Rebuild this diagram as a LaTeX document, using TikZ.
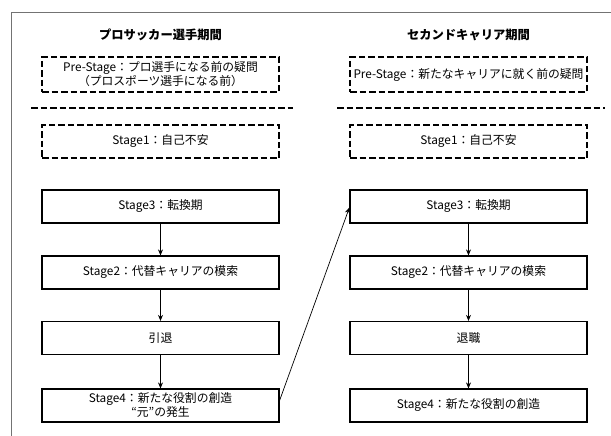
\documentclass[tikz,border=0pt]{standalone}
\usepackage{fontspec}
\setmainfont{Noto Sans CJK JP}
\usetikzlibrary{arrows.meta}
\begin{document}
\begin{tikzpicture}[x=1pt,y=-1pt,
  box/.style={draw,line width=1.2pt,minimum width=237pt,minimum height=33pt,inner sep=1pt,align=center,font=\fontsize{11.8}{14}\selectfont},
  dbox/.style={box,dash pattern=on 6.5pt off 3pt},
  title/.style={font=\fontsize{12.3}{14}\selectfont\bfseries},
  sep/.style={line width=1.2pt,dash pattern=on 6.5pt off 3pt},
  arr/.style={-{Stealth[length=6pt,width=5pt]},line width=0.7pt},
  frame/.style={draw=black!55,line width=0.9pt}]
\useasboundingbox (0,0) rectangle (611,436);
% outer frame
\coordinate (fr1) at (611,12);
\coordinate (fr2) at (11,12);
\coordinate (fr3) at (11,436);
\draw[frame] (fr1) -- (fr2) -- (fr3);
% titles
\node[title] (tl) at (160.5,35) {プロサッカー選手期間};
\node[title] (tr) at (468.5,35) {セカンドキャリア期間};
% left column
\node[dbox,minimum height=35pt] (pl) at (160.5,74.5) {Pre-Stage：プロ選手になる前の疑問\\（プロスポーツ選手になる前）};
\node[dbox] (s1l) at (160.5,141.5) {Stage1：自己不安};
\node[box] (s3l) at (160.5,206.5) {Stage3：転換期};
\node[box] (s2l) at (160.5,272.5) {Stage2：代替キャリアの模索};
\node[box] (rl) at (160.5,338) {引退};
\node[box] (s4l) at (160.5,405.5) {Stage4：新たな役割の創造\\“元”の発生};
% right column
\node[dbox,minimum height=35pt] (pr) at (468.5,74.5) {Pre-Stage：新たなキャリアに就く前の疑問};
\node[dbox] (s1r) at (468.5,141.5) {Stage1：自己不安};
\node[box] (s3r) at (468.5,206.5) {Stage3：転換期};
\node[box] (s2r) at (468.5,272.5) {Stage2：代替キャリアの模索};
\node[box] (rr) at (468.5,338) {退職};
\node[box] (s4r) at (468.5,405.5) {Stage4：新たな役割の創造};
% separators
\coordinate (sl1) at (31,108);
\coordinate (sl2) at (293,108);
\coordinate (sr1) at (337,108);
\coordinate (sr2) at (605,108);
\draw[sep] (sl1) -- (sl2);
\draw[sep] (sr1) -- (sr2);
% arrows
\draw[arr] (s3l) -- (s2l);
\draw[arr] (s2l) -- (rl);
\draw[arr] (rl) -- (s4l);
\draw[arr] (s3r) -- (s2r);
\draw[arr] (s2r) -- (rr);
\draw[arr] (rr) -- (s4r);
\draw[arr] ([yshift=5pt]s4l.east) -- ([yshift=-1pt]s3r.west);
\end{tikzpicture}
\end{document}
